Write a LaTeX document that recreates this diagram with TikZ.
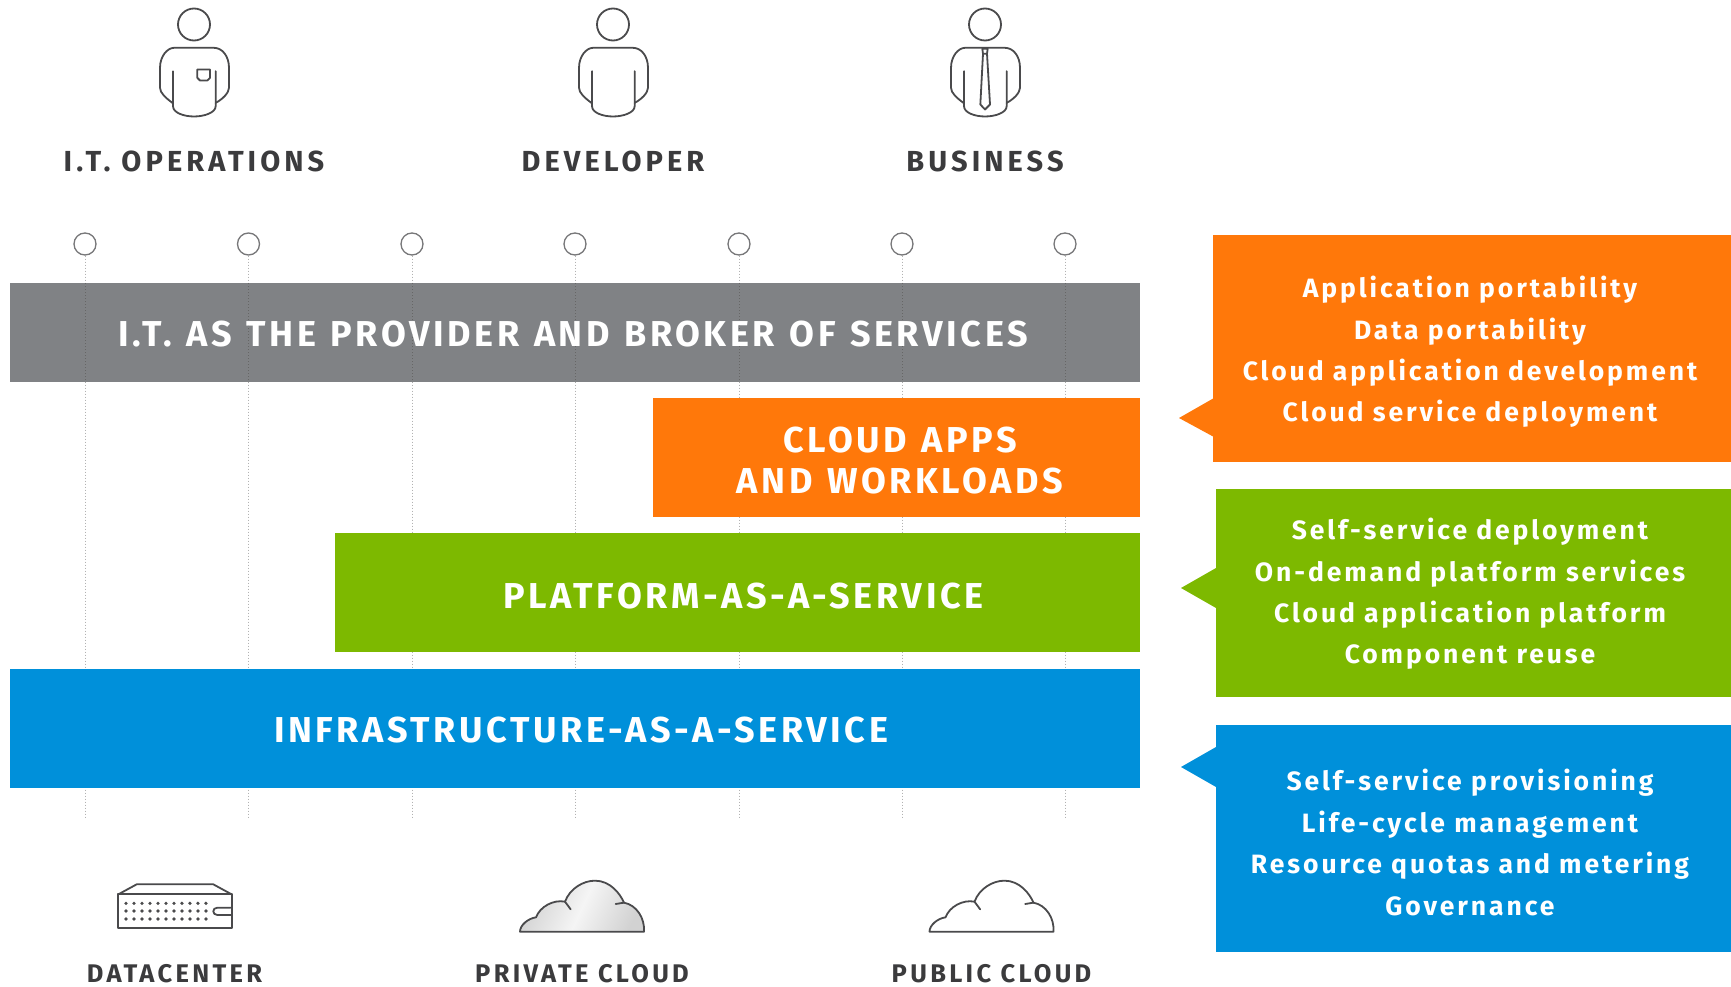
\documentclass[tikz,border=0pt]{standalone}
\usepackage{fontspec}
\setmainfont{Fira Sans}
\newfontfamily\barfont{Fira Sans}[LetterSpace=10,WordSpace=1.2,Ligatures=NoCommon]
\newfontfamily\listfont{Fira Sans}[LetterSpace=11,Ligatures=NoCommon]
\newfontfamily\capfont{Fira Sans}[LetterSpace=14,Ligatures=NoCommon]
\newfontfamily\capfontb{Fira Sans}[LetterSpace=13,Ligatures=NoCommon]
\definecolor{rhgrey}{HTML}{808285}
\definecolor{rhorange}{HTML}{FF780A}
\definecolor{rhgreen}{HTML}{7DB900}
\definecolor{rhblue}{HTML}{0090DA}
\definecolor{iconline}{HTML}{4A4A4C}
\tikzset{
  box/.style={anchor=north west,inner sep=0pt,outer sep=0pt,draw=none},
  bartext/.style={text=white,font=\barfont\bfseries\fontsize{36}{41}\selectfont,inner sep=0pt,align=center},
  listtext/.style={text=white,font=\listfont\bfseries\fontsize{26.5}{41.4}\selectfont,inner sep=0pt,align=center},
  captext/.style={text=iconline!80!black,font=\capfont\bfseries\fontsize{29}{32}\selectfont,inner sep=0pt},
  captextsmall/.style={text=iconline!80!black,font=\capfontb\bfseries\fontsize{25.5}{32}\selectfont,inner sep=0pt},
  dotnode/.style={circle,draw=iconline!75!white,line width=1.3pt,minimum size=22pt,inner sep=0pt},
  dotline/.style={draw=gray!60,line width=1pt,dotted},
  dotdark/.style={draw=black!60,line width=1pt,dotted},
  icon/.style={draw=iconline,line width=1.8pt,line cap=round,line join=round},
}
\newcommand{\personbody}{%
  \draw[icon] (0,0) circle (16);
  \draw[icon,x=0.3333pt,y=-0.3333pt] (-65,235) .. controls (-85,220) and (-102,205) .. (-102,190)
     -- (-102,130) .. controls (-102,95) and (-80,70) .. (-60,70) -- (60,70)
     .. controls (85,70) and (105,95) .. (105,130) -- (105,190)
     .. controls (105,205) and (85,225) .. (65,235);
  \draw[icon,x=0.3333pt,y=-0.3333pt] (-63,140) -- (-63,245) .. controls (-63,265) and (-30,276) .. (0,276)
     .. controls (30,276) and (65,265) .. (65,245) -- (65,140);
}
\begin{document}
\begin{tikzpicture}[x=1pt,y=-1pt]
\useasboundingbox[fill=white] (0,0) rectangle (1731,987);

% people
\begin{scope}[shift={(194,24.5)}]
  \personbody
  \draw[icon,x=0.3333pt,y=-0.3333pt] (10,135) -- (48,135) -- (48,160) -- (40,168) -- (18,168) -- (10,160) -- cycle;
\end{scope}
\begin{scope}[shift={(613,24.5)}]
  \personbody
\end{scope}
\begin{scope}[shift={(985,24.5)}]
  \personbody
  \draw[icon,x=0.3333pt,y=-0.3333pt] (-8,73) -- (8,73) -- (6,88) -- (-6,88) -- cycle
     (-6,88) -- (-14,240) -- (0,255) -- (15,240) -- (6,88);
\end{scope}
\node[captext] (ops) at (194,161) {I.T. OPERATIONS};
\node[captext] (dev) at (613,161) {DEVELOPER};
\node[captext] (bus) at (985,161) {BUSINESS};

% grey band under the dotted lines
\node[box,fill=rhgrey,minimum width=1130pt,minimum height=99pt] (itbar) at (10,283) {};

% column markers and dotted lines
\foreach \i/\x in {1/85,2/248.5,3/412,4/575,5/739,6/902,7/1065}{
  \node[dotnode] (c\i) at (\x,244) {};
  \coordinate (e\i) at (\x,817);
  \coordinate (gt\i) at (\x,283);
  \coordinate (gb\i) at (\x,382);
  \draw[dotline] (c\i) -- (e\i);
  \draw[dotdark] (gt\i) -- (gb\i);
}
\node[bartext] (ittext) at (573,334) {I.T. AS THE PROVIDER AND BROKER OF SERVICES};

% bands
\node[box,fill=rhorange,minimum width=487pt,minimum height=119pt] (appbar) at (653,398) {};
\node[bartext] (apptext) at (900,460.5) {CLOUD APPS\\[0pt]AND WORKLOADS};
\node[box,fill=rhgreen,minimum width=805pt,minimum height=119pt] (paasbar) at (335,533) {};
\node[bartext] (paastext) at (743.5,596) {PLATFORM-AS-A-SERVICE};
\node[box,fill=rhblue,minimum width=1130pt,minimum height=119pt] (iaasbar) at (10,669) {};
\node[bartext] (iaastext) at (581,730) {INFRASTRUCTURE-AS-A-SERVICE};

% callouts
\node[box,fill=rhorange,minimum width=518pt,minimum height=227pt] (appcall) at (1213,235) {};
\fill[rhorange] (1214,398) -- (1179,418) -- (1214,437) -- cycle;
\node[listtext] (applist) at (1470,352) {Application portability\\Data portability\\Cloud application development\\Cloud service deployment};
\node[box,fill=rhgreen,minimum width=515.5pt,minimum height=208pt] (paascall) at (1215.5,489) {};
\fill[rhgreen] (1216,568) -- (1181,588) -- (1216,608) -- cycle;
\node[listtext] (paaslist) at (1470,594) {Self-service deployment\\On-demand platform services\\Cloud application platform\\Component reuse};
\node[box,fill=rhblue,minimum width=515.5pt,minimum height=227pt] (iaascall) at (1215.5,725) {};
\fill[rhblue] (1216,747) -- (1181,767) -- (1216,787) -- cycle;
\node[listtext] (iaaslist) at (1470,842.5) {Self-service provisioning\\Life-cycle management\\Resource quotas and metering\\Governance};

% datacenter icon
\begin{scope}[shift={(100,860)},x=0.3333pt,y=-0.3333pt]
  \draw[icon] (55,103) rectangle (395,205);
  \draw[icon] (55,103) -- (110,73) -- (340,73) -- (395,103);
  \draw[icon] (392,143) -- (352,143) .. controls (336,143) and (336,165) .. (352,165) -- (392,165);
  \foreach \yy in {130,153,177}{
    \foreach \xx in {78,102,...,318}{
      \fill[iconline] (\xx,\yy) circle (5.5);
    }
  }
\end{scope}

% clouds
\newcommand{\cloudshape}{(60,215) .. controls (60,195) and (85,175) .. (108,172)
   .. controls (120,140) and (160,118) .. (195,125)
   .. controls (210,85) and (250,62) .. (285,62)
   .. controls (330,62) and (360,100) .. (372,128)
   .. controls (410,135) and (435,175) .. (432,215) -- cycle}
\begin{scope}[shift={(500,860)},x=0.3333pt,y=-0.3333pt]
  \shade[left color=gray!35,right color=gray!35,middle color=gray!8,shading angle=65] \cloudshape;
  \draw[icon] \cloudshape;
  \draw[icon] (195,125) -- (212,148);
  \draw[icon] (372,128) -- (347,132);
\end{scope}
\begin{scope}[shift={(909.5,860)},x=0.3333pt,y=-0.3333pt]
  \draw[icon,fill=white] \cloudshape;
  \draw[icon] (195,125) -- (212,148);
  \draw[icon] (372,128) -- (347,132);
\end{scope}
\node[captextsmall] (dc) at (174.5,974) {DATACENTER};
\node[captextsmall] (priv) at (582,974) {PRIVATE CLOUD};
\node[captextsmall] (pub) at (991.5,974) {PUBLIC CLOUD};
\end{tikzpicture}
\end{document}
